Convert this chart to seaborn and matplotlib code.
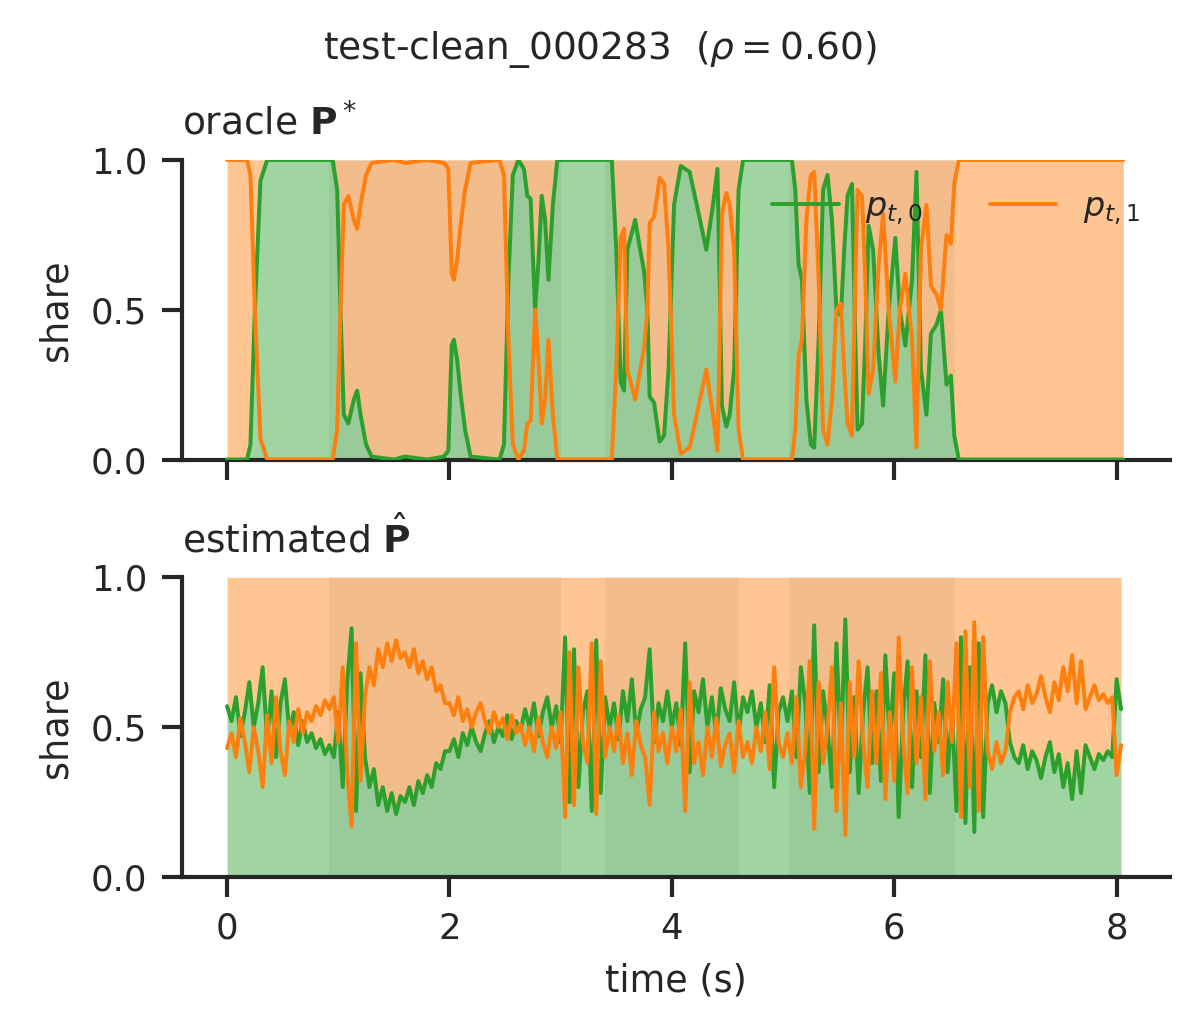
import numpy as np
import matplotlib
matplotlib.use("Agg")
import matplotlib.pyplot as plt
import seaborn as sns

# ---------------- data ----------------
# oracle share of source 0 (green), key points (time s, share)
oracle_t = [0.00, 0.18, 0.21, 0.25, 0.30, 0.36, 0.95, 0.99, 1.02, 1.05, 1.09, 1.14, 1.17, 1.20,
            1.25, 1.30, 1.50, 1.60, 1.80, 1.95, 1.99, 2.02, 2.04, 2.07, 2.10, 2.14, 2.19, 2.45,
            2.49, 2.53, 2.57, 2.62, 2.67, 2.70, 2.73, 2.77, 2.80, 2.83, 2.86, 2.89, 2.93, 2.97,
            3.46, 3.50, 3.54, 3.57, 3.60, 3.67, 3.72, 3.75, 3.78, 3.80, 3.84, 3.89, 3.93, 3.97,
            4.02, 4.08, 4.16, 4.23, 4.31, 4.37, 4.41, 4.43, 4.45, 4.49, 4.52, 4.56, 4.60, 4.64,
            5.08, 5.11, 5.14, 5.17, 5.21, 5.25, 5.28, 5.32, 5.36, 5.40, 5.44, 5.48, 5.52, 5.55,
            5.58, 5.62, 5.65, 5.67, 5.71, 5.74, 5.77, 5.81, 5.86, 5.90, 5.95, 6.01, 6.05, 6.10,
            6.16, 6.20, 6.24, 6.29, 6.33, 6.38, 6.42, 6.47, 6.51, 6.54, 6.58, 8.06]
oracle_p0 = [0.00, 0.00, 0.05, 0.50, 0.93, 1.00, 1.00, 0.90, 0.50, 0.15, 0.12, 0.20, 0.23, 0.15,
             0.05, 0.01, 0.00, 0.01, 0.00, 0.01, 0.03, 0.38, 0.40, 0.33, 0.22, 0.10, 0.01, 0.00,
             0.05, 0.60, 0.95, 1.00, 0.97, 0.88, 0.87, 0.50, 0.66, 0.88, 0.80, 0.60, 0.85, 1.00,
             1.00, 0.70, 0.26, 0.23, 0.70, 0.80, 0.69, 0.63, 0.50, 0.21, 0.19, 0.06, 0.08, 0.30,
             0.85, 0.98, 0.96, 0.84, 0.70, 0.85, 0.97, 0.60, 0.18, 0.11, 0.15, 0.30, 0.90, 1.00,
             1.00, 0.90, 0.65, 0.60, 0.20, 0.05, 0.04, 0.40, 0.90, 0.95, 0.80, 0.50, 0.48, 0.70,
             0.88, 0.92, 0.40, 0.10, 0.12, 0.40, 0.78, 0.70, 0.35, 0.18, 0.50, 0.74, 0.50, 0.38,
             0.60, 0.96, 0.30, 0.15, 0.42, 0.45, 0.50, 0.25, 0.28, 0.08, 0.00, 0.00]

# estimated share of source 0 (green), one value per 0.04 s frame
est_hop = 0.04
est_p0 = [
    0.57, 0.52, 0.60, 0.47, 0.55, 0.65, 0.50, 0.58, 0.70, 0.46, 0.62, 0.40, 0.58, 0.66, 0.48,
    0.55, 0.44, 0.52, 0.45, 0.48, 0.43, 0.46, 0.41, 0.44, 0.40,
    0.55, 0.30, 0.65, 0.83, 0.22, 0.68, 0.40, 0.30, 0.36, 0.24, 0.30, 0.22, 0.28, 0.21, 0.27,
    0.25, 0.30, 0.24, 0.32, 0.28, 0.34, 0.30, 0.38, 0.36, 0.42,
    0.42, 0.46, 0.40, 0.48, 0.44, 0.50, 0.45, 0.42, 0.48, 0.52, 0.45, 0.50, 0.47, 0.54, 0.46,
    0.52, 0.49, 0.56, 0.50, 0.58, 0.47, 0.55, 0.60, 0.50, 0.57,
    0.45, 0.80, 0.25, 0.76, 0.30, 0.55, 0.62, 0.22, 0.79, 0.28, 0.60, 0.50, 0.58, 0.46, 0.62,
    0.52, 0.66, 0.48, 0.56, 0.60, 0.76, 0.45, 0.58, 0.52, 0.62,
    0.50, 0.58, 0.44, 0.78, 0.35, 0.62, 0.55, 0.66, 0.50, 0.60, 0.47, 0.63, 0.56, 0.52, 0.65,
    0.48, 0.60, 0.55, 0.62, 0.50, 0.58, 0.45, 0.64, 0.30, 0.55,
    0.60, 0.52, 0.62, 0.40, 0.70, 0.58, 0.28, 0.84, 0.35, 0.62, 0.50, 0.30, 0.78, 0.42, 0.86,
    0.35, 0.60, 0.28, 0.55, 0.70, 0.38, 0.62, 0.32, 0.74, 0.45,
    0.68, 0.20, 0.55, 0.72, 0.30, 0.62, 0.40, 0.74, 0.28, 0.58, 0.45, 0.66, 0.35, 0.55, 0.22,
    0.80, 0.18, 0.70, 0.15, 0.78, 0.20, 0.58, 0.64, 0.55, 0.62,
    0.58, 0.45, 0.40, 0.38, 0.44, 0.36, 0.42, 0.39, 0.33, 0.40, 0.45, 0.35, 0.41, 0.30, 0.38,
    0.26, 0.42, 0.28, 0.44, 0.40, 0.36, 0.41, 0.39, 0.42, 0.40,
    0.66, 0.56,
]

# overlap intervals (darker bands), seconds
overlap_spans = [(0.92, 3.00), (3.40, 4.60), (5.05, 6.55)]

series_labels = [r"$p_{t,0}$", r"$p_{t,1}$"]
title_text = r"test-clean_000283  ($\rho=0.60$)"
panel_titles = [r"oracle $\mathbf{P}^*$", r"estimated $\hat{\mathbf{P}}$"]

# ---------------- plotting ----------------
sns.set_theme(style="ticks", context="paper")
plt.rcParams["font.family"] = ["DejaVu Sans"]
plt.rcParams["xtick.labelsize"] = 8.5
plt.rcParams["ytick.labelsize"] = 8.5
plt.rcParams["axes.labelsize"] = 8.8

GREEN = "#2ca02c"
ORANGE = "#ff7f0e"

o_t = np.array(oracle_t)
o_p0 = np.array(oracle_p0)
o_p1 = 1.0 - o_p0

e_p0 = np.array(est_p0)
e_t = np.arange(len(e_p0)) * est_hop
e_p1 = 1.0 - e_p0

fig, axes = plt.subplots(2, 1, figsize=(4.0, 3.437), dpi=300, sharex=True)
fig.subplots_adjust(left=0.1517, right=0.975, top=1 - 160 / 1031, bottom=1 - 877 / 1031,
                    hspace=0.393)

for ax, t, p0, p1, ttl, show_leg in [
    (axes[0], o_t, o_p0, o_p1, panel_titles[0], True),
    (axes[1], e_t, e_p0, e_p1, panel_titles[1], False),
]:
    ax.stackplot(t, p0, p1, colors=[GREEN, ORANGE], alpha=0.45, linewidth=0, zorder=1)
    for a, b in overlap_spans:
        ax.axvspan(a, b, color="k", alpha=0.05, linewidth=0, zorder=1.5)
    sns.lineplot(x=t, y=p0, ax=ax, color=GREEN, linewidth=0.95, estimator=None,
                 sort=False, label=series_labels[0] if show_leg else None,
                 legend=show_leg, zorder=3)
    sns.lineplot(x=t, y=p1, ax=ax, color=ORANGE, linewidth=0.95, estimator=None,
                 sort=False, label=series_labels[1] if show_leg else None,
                 legend=show_leg, zorder=3)
    ax.set_ylim(0, 1)
    ax.set_yticks([0.0, 0.5, 1.0])
    ax.set_ylabel("share")
    ax.set_title(ttl, loc="left", fontsize=9.0)
    sns.despine(ax=ax)

axes[0].legend(loc="upper right", ncol=2, frameon=False, fontsize=8.0)
axes[0].set_xlabel("")
axes[1].set_xlabel("time (s)")
axes[1].set_xticks([0, 2, 4, 6, 8])
axes[1].set_xlim(-0.405, 8.48)

fig.suptitle(title_text, x=0.5, y=0.972, va="top", fontsize=9.0)

fig.savefig("out.png", dpi=300)
